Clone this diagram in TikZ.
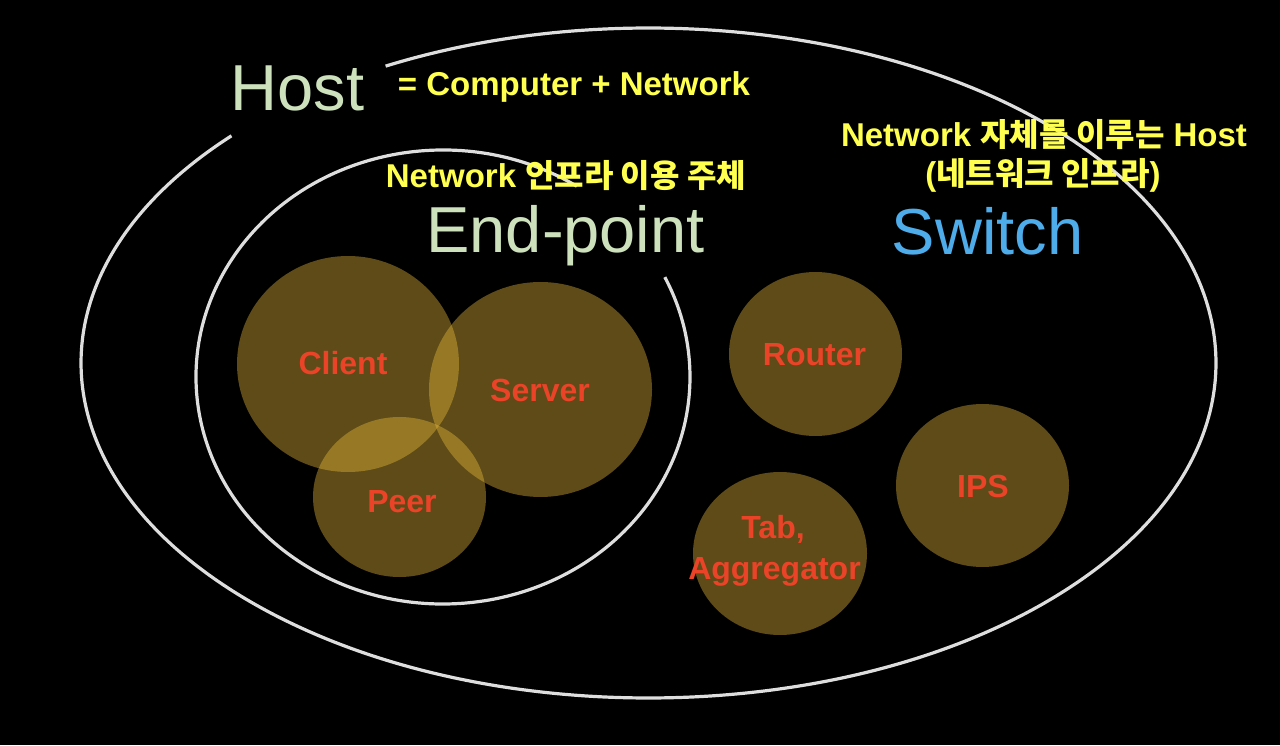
\documentclass[tikz,border=0pt]{standalone}
\usepackage{fontspec}
\setmainfont{Liberation Sans}
\newfontfamily\krfont{Noto Sans CJK KR}[Scale=0.97]
\newcommand{\kotext}[1]{{\krfont\bfseries #1}}
\usetikzlibrary{shapes.geometric}
\definecolor{hostgreen}{RGB}{205,226,188}
\definecolor{switchblue}{RGB}{79,172,234}
\definecolor{ylw}{RGB}{255,255,80}
\definecolor{lblred}{RGB}{234,67,40}
\definecolor{ringline}{RGB}{222,222,222}
\definecolor{blobfill}{RGB}{235,188,58}
\tikzset{
  ring/.style={draw=ringline, line width=3.2pt},
  blob/.style={ellipse, fill=blobfill, fill opacity=0.4, draw=none, inner sep=0pt},
  title/.style={anchor=base, font=\fontsize{65}{78}\selectfont, inner sep=0pt},
  note/.style={anchor=base, text=ylw, font=\fontsize{33}{39}\selectfont\bfseries, inner sep=0pt},
  lbl/.style={anchor=base, text=lblred, font=\fontsize{32}{38}\selectfont\bfseries, inner sep=0pt}
}
\begin{document}
\begin{tikzpicture}[x=1pt,y=1pt]
\fill[black] (0,0) rectangle (1280,745);
\useasboundingbox (0,0) rectangle (1280,745);
% ellipses
\coordinate (outerc) at (648.5,382);
\coordinate (innerc) at (443,368);
\draw[ring] (outerc) ++(137.3:567.5 and 335) arc[start angle=137.3, end angle=477.6, x radius=567.5, y radius=335];
\draw[ring] (innerc) ++(57.2:247 and 227) arc[start angle=57.2, end angle=386.1, x radius=247, y radius=227];
% blobs
\node[blob, minimum width=222pt, minimum height=216pt] (client) at (348,381) {};
\node[blob, minimum width=223pt, minimum height=215pt] (server) at (540.5,355.5) {};
\node[blob, minimum width=173pt, minimum height=160pt] (peer) at (399.5,248) {};
\node[blob, minimum width=173pt, minimum height=164pt] (router) at (815.5,391) {};
\node[blob, minimum width=173pt, minimum height=163pt] (ips) at (982.5,259.5) {};
\node[blob, minimum width=174pt, minimum height=163pt] (tab) at (780,191.5) {};
% titles
\node[title, text=hostgreen] (host) at (297.5,634) {Host};
\node[title, text=hostgreen] (endpoint) at (565.5,492) {End-point};
\node[title, text=switchblue] (switch) at (987.5,490) {Switch};
% notes
\node[note] (hostdef) at (574,649) {= Computer + Network};
\node[note] (epdef) at (566,557) {Network \kotext{인프라 이용 주체}};
\node[note] (swdef1) at (1044,598) {Network \kotext{자체를 이루는} Host};
\node[note] (swdef2) at (1043,559) {(\kotext{네트워크 인프라})};
% labels
\node[lbl] (clientl) at (343,370) {Client};
\node[lbl] (serverl) at (540,343) {Server};
\node[lbl] (peerl) at (402,232) {Peer};
\node[lbl] (routerl) at (814.5,379) {Router};
\node[lbl] (ipsl) at (983,247) {IPS};
\node[lbl] (tabl) at (773,206) {Tab,};
\node[lbl] (aggl) at (774.5,166) {Aggregator};
\end{tikzpicture}
\end{document}
